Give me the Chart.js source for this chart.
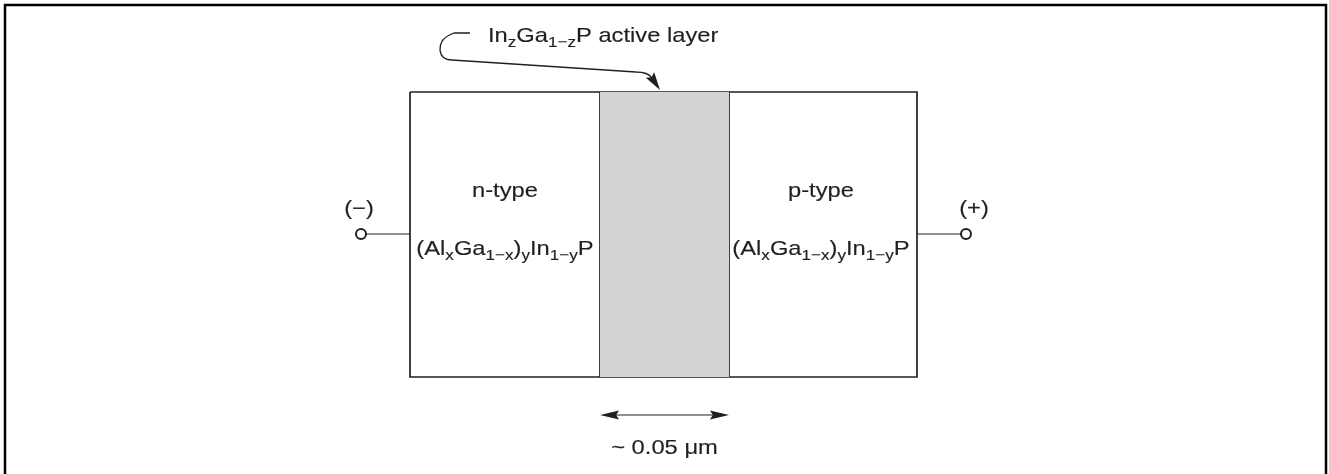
<!DOCTYPE html>
<html>
<head>
<meta charset="utf-8">
<script src="https://cdn.jsdelivr.net/npm/chart.js@4.4.1/dist/chart.umd.min.js"></script>
<style>
  body { margin: 0; background: #fff; }
  #wrap { position: relative; width: 1329px; height: 474px; }
</style>
</head>
<body>
<div id="wrap"><canvas id="diagram"></canvas></div>
<script>
// Layer stack (drawing units match the 1329 x 474 sheet)
const layerEdges = [410, 600, 729, 917];      // n-type | active | p-type
const stackTop = 92;
const stackBottom = 377;
const wireY = 234;
const terminalX = [361, 966];

// Labels: [text, isSubscript]
const nLabel = 'n-type';
const pLabel = 'p-type';
const claddingFormula = [['(Al', 0], ['x', 1], ['Ga', 0], ['1\u2212x', 1], [')', 0], ['y', 1], ['In', 0], ['1\u2212y', 1], ['P', 0]];
const activeFormula = [['In', 0], ['z', 1], ['Ga', 0], ['1\u2212z', 1], ['P active layer', 0]];
const terminalLabels = ['(\u2212)', '(+)'];
const thicknessLabel = '~ 0.05 \u03bcm';

// Callout leader: start, bend points, tip
const calloutPath = [[470, 33], [454, 33], [441, 38], [440, 50], [452, 60], [636, 72], [652, 78], [660, 90]];
const dimensionY = 415;

const ink = '#231f20';
const grey = '#d1d3d4';
const textStretch = 1.13;
const fontSize = 21;
const fontFamily = '"Liberation Sans", Arial, Helvetica, sans-serif';

function seg(x1, y1, x2, y2, width) {
    return {
        data: [{ x: x1, y: y1 }, { x: x2, y: y2 }],
        showLine: true, borderColor: ink, borderWidth: width || 1.7,
        pointRadius: 0, fill: false
    };
}

function drawRich(ctx, parts, x, y, size, align) {
    const sub = size * 0.72;
    let total = 0;
    parts.forEach(([t, s]) => {
        ctx.font = (s ? sub : size) + 'px ' + fontFamily;
        total += ctx.measureText(t).width;
    });
    ctx.save();
    ctx.translate(x, y);
    ctx.scale(textStretch, 1);
    let cx = align === 'center' ? -total / 2 : 0;
    ctx.textAlign = 'left';
    ctx.textBaseline = 'alphabetic';
    ctx.fillStyle = ink;
    ctx.strokeStyle = ink;
    ctx.lineWidth = 0.15;
    parts.forEach(([t, s]) => {
        ctx.font = (s ? sub : size) + 'px ' + fontFamily;
        ctx.fillText(t, cx, s ? 5 : 0);
        ctx.strokeText(t, cx, s ? 5 : 0);
        cx += ctx.measureText(t).width;
    });
    ctx.restore();
}

function arrowHead(ctx, fx, fy, tx, ty, len, half) {
    const a = Math.atan2(ty - fy, tx - fx);
    ctx.save();
    ctx.translate(tx, ty);
    ctx.rotate(a);
    ctx.beginPath();
    ctx.moveTo(0, 0);
    ctx.lineTo(-len, -half);
    ctx.lineTo(-len * 0.85, 0);
    ctx.lineTo(-len, half);
    ctx.closePath();
    ctx.fillStyle = ink;
    ctx.fill();
    ctx.restore();
}

const annotations = {
    id: 'annotations',
    afterDatasetsDraw(chart) {
        const { ctx, scales: { x, y } } = chart;
        const px = v => x.getPixelForValue(v);
        const py = v => y.getPixelForValue(v);

        // callout leader
        const p = calloutPath.map(([a, b]) => [px(a), py(b)]);
        ctx.save();
        ctx.strokeStyle = ink;
        ctx.lineWidth = 1.3;
        ctx.beginPath();
        ctx.moveTo(p[0][0], p[0][1]);
        ctx.lineTo(p[1][0], p[1][1]);
        ctx.bezierCurveTo(p[2][0], p[2][1], p[3][0], p[3][1] - 6, p[3][0], p[3][1]);
        ctx.quadraticCurveTo(p[3][0] + 1, p[4][1], p[4][0], p[4][1]);
        ctx.lineTo(p[5][0], p[5][1]);
        ctx.quadraticCurveTo(p[6][0] - 4, p[6][1] - 6, p[6][0], p[6][1]);
        ctx.stroke();
        ctx.restore();
        arrowHead(ctx, p[6][0] - 2, p[6][1] - 3, p[7][0], p[7][1], 18, 5);

        // dimension arrows
        const mid = (layerEdges[1] + layerEdges[2]) / 2;
        arrowHead(ctx, px(mid), py(dimensionY), px(layerEdges[1]), py(dimensionY), 19, 4.5);
        arrowHead(ctx, px(mid), py(dimensionY), px(layerEdges[2]), py(dimensionY), 19, 4.5);

        // text
        const nMid = (layerEdges[0] + layerEdges[1]) / 2;
        const pMid = (layerEdges[2] + layerEdges[3]) / 2 - 2;
        drawRich(ctx, [[nLabel, 0]], px(nMid), py(197), fontSize, 'center');
        drawRich(ctx, [[pLabel, 0]], px(pMid), py(197), fontSize, 'center');
        drawRich(ctx, claddingFormula, px(nMid), py(255), fontSize, 'center');
        drawRich(ctx, claddingFormula, px(pMid), py(255), fontSize, 'center');
        drawRich(ctx, [[terminalLabels[0], 0]], px(terminalX[0] - 2), py(215), fontSize, 'center');
        drawRich(ctx, [[terminalLabels[1], 0]], px(terminalX[1] + 8), py(215), fontSize, 'center');
        drawRich(ctx, activeFormula, px(488), py(42), fontSize, 'left');
        drawRich(ctx, [[thicknessLabel, 0]], px(mid), py(454), fontSize, 'center');
    }
};

const datasets = [
    // active layer fill (top edge filled down to bottom edge)
    {
        data: [{ x: layerEdges[1], y: stackTop }, { x: layerEdges[2], y: stackTop }],
        showLine: true, borderWidth: 0, pointRadius: 0,
        backgroundColor: grey, fill: '+1'
    },
    {
        data: [{ x: layerEdges[1], y: stackBottom }, { x: layerEdges[2], y: stackBottom }],
        showLine: true, borderWidth: 0, pointRadius: 0, fill: false
    },
    // stack outline
    {
        data: [
            { x: layerEdges[0], y: stackTop }, { x: layerEdges[3], y: stackTop },
            { x: layerEdges[3], y: stackBottom }, { x: layerEdges[0], y: stackBottom },
            { x: layerEdges[0], y: stackTop }
        ],
        showLine: true, borderColor: ink, borderWidth: 1.7, pointRadius: 0, fill: false
    },
    seg(layerEdges[1], stackTop, layerEdges[1], stackBottom),
    seg(layerEdges[2], stackTop, layerEdges[2], stackBottom),
    // lead wires
    seg(terminalX[0] + 5, wireY, layerEdges[0], wireY, 1.1),
    seg(layerEdges[3], wireY, terminalX[1] - 5, wireY, 1.1),
    // dimension line
    seg(layerEdges[1] + 10, dimensionY, layerEdges[2] - 10, dimensionY, 1.1),
    // terminals
    {
        data: terminalX.map(v => ({ x: v, y: wireY })),
        showLine: false, pointRadius: 5, pointBackgroundColor: '#fff',
        pointBorderColor: ink, pointBorderWidth: 2
    },
    // sheet frame
    {
        data: [{ x: 5, y: 490 }, { x: 5, y: 5 }, { x: 1326, y: 5 }, { x: 1326, y: 490 }],
        showLine: true, borderColor: '#000', borderWidth: 2.5, pointRadius: 0, fill: false
    }
];

new Chart(document.getElementById('diagram'), {
    type: 'scatter',
    data: { datasets: datasets },
    options: {
        responsive: true,
        maintainAspectRatio: false,
        animation: false,
        events: [],
        layout: { padding: 0, autoPadding: false },
        scales: {
            x: { type: 'linear', display: false, min: 0, max: 1329 },
            y: { type: 'linear', display: false, min: 0, max: 474, reverse: true }
        },
        plugins: {
            legend: { display: false },
            tooltip: { enabled: false }
        }
    },
    plugins: [annotations]
});
</script>
</body>
</html>
